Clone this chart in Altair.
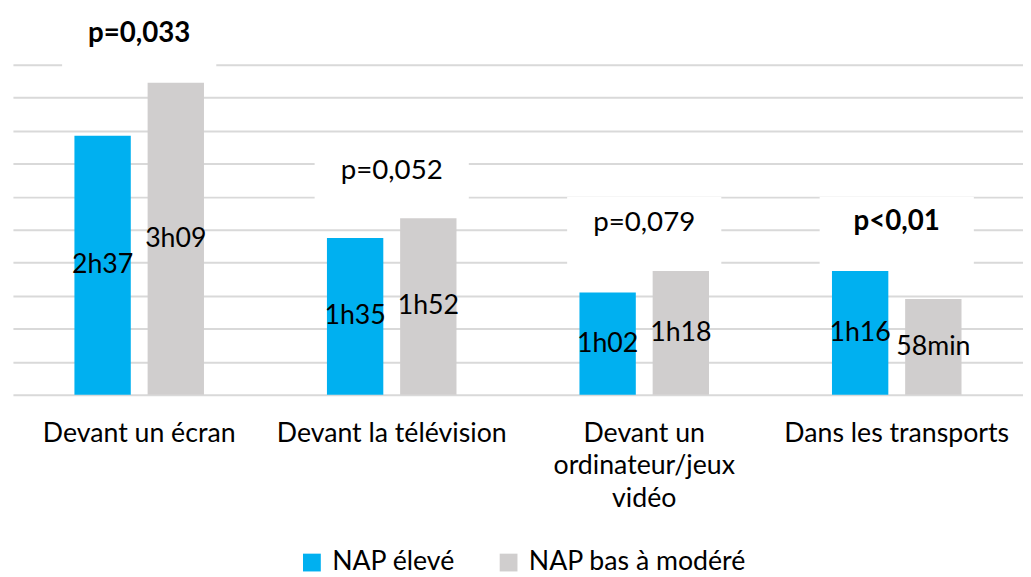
import altair as alt
import pandas as pd

categories = ["Devant un écran", "Devant la télévision",
              "Devant un ordinateur/jeux vidéo", "Dans les transports"]
series = ["NAP élevé", "NAP bas à modéré"]
nap_eleve_min = [157, 95, 62, 75]
nap_bas_min = [189, 107, 75, 58]
nap_eleve_lbl = ["2h37", "1h35", "1h02", "1h16"]
nap_bas_lbl = ["3h09", "1h52", "1h18", "58min"]
p_labels = ["p=0,033", "p=0,052", "p=0,079", "p<0,01"]
p_bold = [True, False, False, True]
y_ticks = list(range(0, 201, 20))
colors = ["#00B0F0", "#D0CECE"]

rows = []
for i, c in enumerate(categories):
    rows.append({"cat": c, "serie": series[0], "value": nap_eleve_min[i], "label": nap_eleve_lbl[i]})
    rows.append({"cat": c, "serie": series[1], "value": nap_bas_min[i], "label": nap_bas_lbl[i]})
df = pd.DataFrame(rows)
pdf = pd.DataFrame({
    "cat": categories,
    "p": p_labels,
    "bold": p_bold,
    "top": [max(a, b) for a, b in zip(nap_eleve_min, nap_bas_min)],
})

FONT = "Lato"
FS = 27

x_enc = alt.X(
    "cat:N", sort=categories,
    scale=alt.Scale(paddingInner=0.487, paddingOuter=0.2435),
    axis=alt.Axis(
        title=None, labelAngle=0, ticks=False, domain=False, labelPadding=26,
        labelFontSize=FS, labelFont=FONT, labelColor="#000000", labelLineHeight=33,
        labelLimit=500,
        labelExpr="datum.label == 'Devant un ordinateur/jeux vidéo' ? ['Devant un', 'ordinateur/jeux', 'vidéo'] : datum.label",
    ),
)
y_scale = alt.Scale(domain=[0, 200], nice=False, zero=True)
y_axis = alt.Axis(values=y_ticks, grid=True, gridColor="#D9D9D9", gridWidth=2,
                  labels=False, ticks=False, domain=False, title=None)
xoff = alt.XOffset("serie:N", sort=series, scale=alt.Scale(paddingInner=0.23, paddingOuter=0))

boxes = alt.Chart(pdf).mark_bar(color="white", width=156, yOffset=-75, y2Offset=-3).encode(
    x=x_enc,
    y=alt.Y("top:Q", scale=y_scale, axis=y_axis),
    y2="top:Q",
)

bars = alt.Chart(df).mark_bar().encode(
    x=x_enc,
    xOffset=xoff,
    y=alt.Y("value:Q", scale=y_scale, axis=y_axis),
    color=alt.Color(
        "serie:N", sort=series,
        scale=alt.Scale(domain=series, range=colors),
        legend=alt.Legend(
            title=None, orient="none", legendX=289, legendY=490, direction="horizontal",
            symbolType="square", symbolSize=324, symbolStrokeWidth=0, symbolOpacity=1,
            labelFont=FONT, labelFontSize=FS, labelColor="#000000", labelOffset=7,
            columnPadding=40, labelLimit=500,
        ),
    ),
)

labels = alt.Chart(df).transform_calculate(mid="datum.value / 2").mark_text(
    font=FONT, fontSize=27, color="#000000", baseline="middle", align="center"
).encode(
    x=x_enc,
    xOffset=xoff,
    y=alt.Y("mid:Q", scale=y_scale, axis=y_axis),
    text="label:N",
)

p_norm = alt.Chart(pdf).transform_filter("!datum.bold").mark_text(
    font=FONT, fontSize=28, color="#000000", baseline="middle", align="center", dy=-48
).encode(
    x=x_enc,
    y=alt.Y("top:Q", scale=y_scale, axis=y_axis),
    text="p:N",
)

p_bold_l = alt.Chart(pdf).transform_filter("datum.bold").mark_text(
    font=FONT, fontSize=28, fontWeight="bold", color="#000000", baseline="middle",
    align="center", dy=-49
).encode(
    x=x_enc,
    y=alt.Y("top:Q", scale=y_scale, axis=y_axis),
    text="p:N",
)

chart = alt.layer(boxes, bars, labels, p_norm, p_bold_l).properties(
    width=1022, height=334,
    padding={"left": 5, "top": 54, "right": 0, "bottom": 181},
    autosize=alt.AutoSizeParams(type="none"),
    background="white",
).configure_view(strokeWidth=0)

chart.save("out.html", embed_options={"renderer": "svg", "actions": False})
